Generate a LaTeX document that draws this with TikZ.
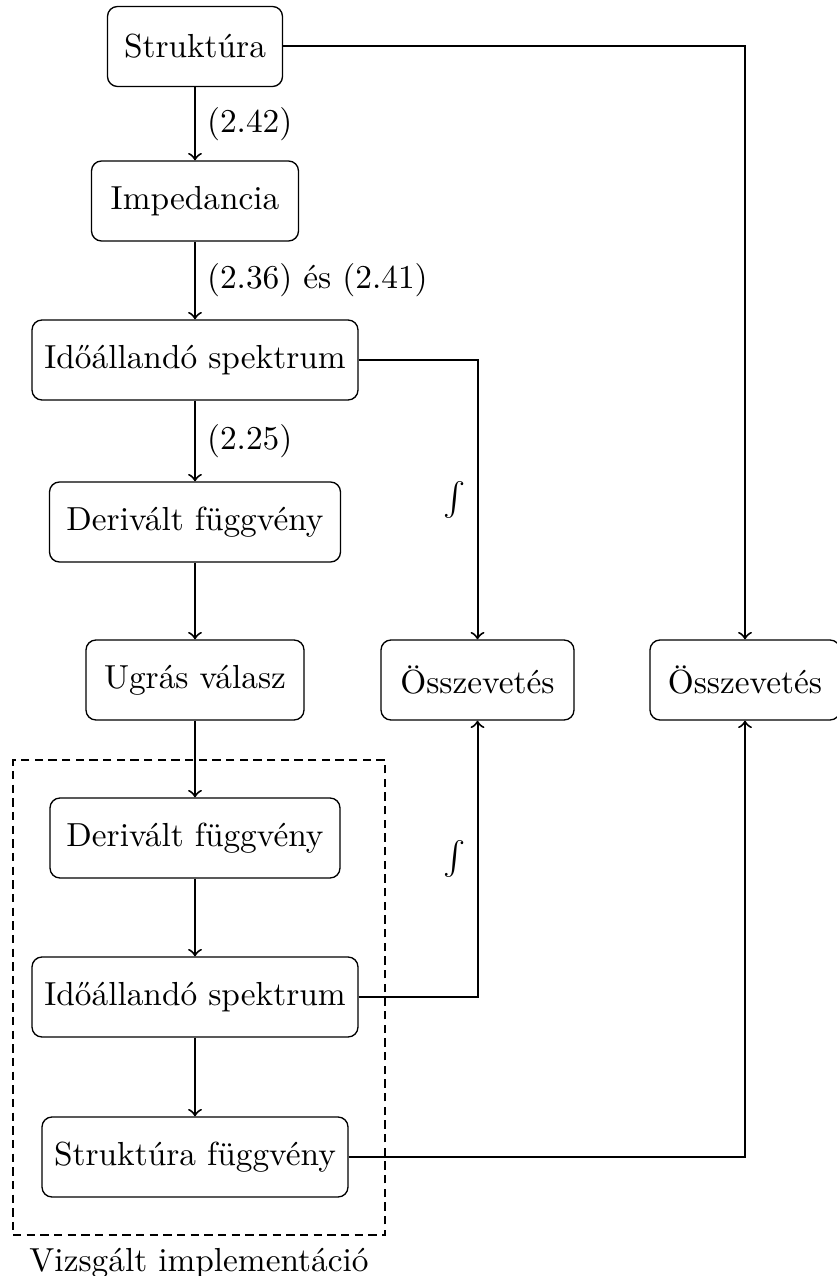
\documentclass[tikz,border=0pt]{standalone}
\usetikzlibrary{positioning}

\begin{document}
\begin{tikzpicture}[
    x=0.3pt, y=-0.3pt, % pixel alapu koordinatak
    semithick,
    box/.style={draw, thin, rounded corners=3pt, minimum height=24pt, align=center}, % Dobozok
    arrow/.style={->, semithick}, % Nyilak
    impl/.style={draw, semithick, dash pattern=on 2.5pt off 1.6pt}, % Szaggatott keret
  ]

  \def\px{0.3pt}
  \useasboundingbox (0,0) rectangle (837,1276);

  % Bal oszlop
  \node[box, minimum width={175*\px}] (str) at (195,46.5) {Struktúra};
  \node[box, minimum width={207*\px}] (imp) at (195,201) {Impedancia};
  \node[box, minimum width={326*\px}] (ids1) at (195,360) {Időállandó spektrum};
  \node[box, minimum width={291*\px}] (der1) at (195,522) {Derivált függvény};
  \node[box, minimum width={218*\px}] (ugr) at (195,680) {Ugrás válasz};

  % Vizsgalt implementacio
  \node[impl, minimum width={372*\px}, minimum height={475*\px}] (vizsg) at (199,997.5) {};
  \node[below, inner sep=3.5pt] (vizsgcim) at (vizsg.south) {Vizsgált implementáció};
  \node[box, minimum width={290*\px}] (der2) at (195,838) {Derivált függvény};
  \node[box, minimum width={326*\px}] (ids2) at (195,997) {Időállandó spektrum};
  \node[box, minimum width={306*\px}] (sf) at (195,1157) {Struktúra függvény};

  % Osszevetesek
  \node[box, minimum width={193*\px}] (ossz1) at (477.5,680) {Összevetés};
  \node[box, minimum width={190*\px}] (ossz2) at (745,680) {Összevetés};

  % Fuggoleges nyilak
  \draw[arrow] (str) -- node[right] {(2.42)} (imp);
  \draw[arrow] (imp) -- node[right] {(2.36) és (2.41)} (ids1);
  \draw[arrow] (ids1) -- node[right] {(2.25)} (der1);
  \draw[arrow] (der1) -- (ugr);
  \draw[arrow] (ugr) -- (der2);
  \draw[arrow] (der2) -- (ids2);
  \draw[arrow] (ids2) -- (sf);

  % Osszevetes fele
  \draw[arrow] (str.east) -| (ossz2.north);
  \draw[arrow] (ids1.east) -| node[pos=0.75, left] {$\int$} (ossz1.north);
  \draw[arrow] (ids2.east) -| node[pos=0.75, left] {$\int$} (ossz1.south);
  \draw[arrow] (sf.east) -| (ossz2.south);
\end{tikzpicture}
\end{document}
